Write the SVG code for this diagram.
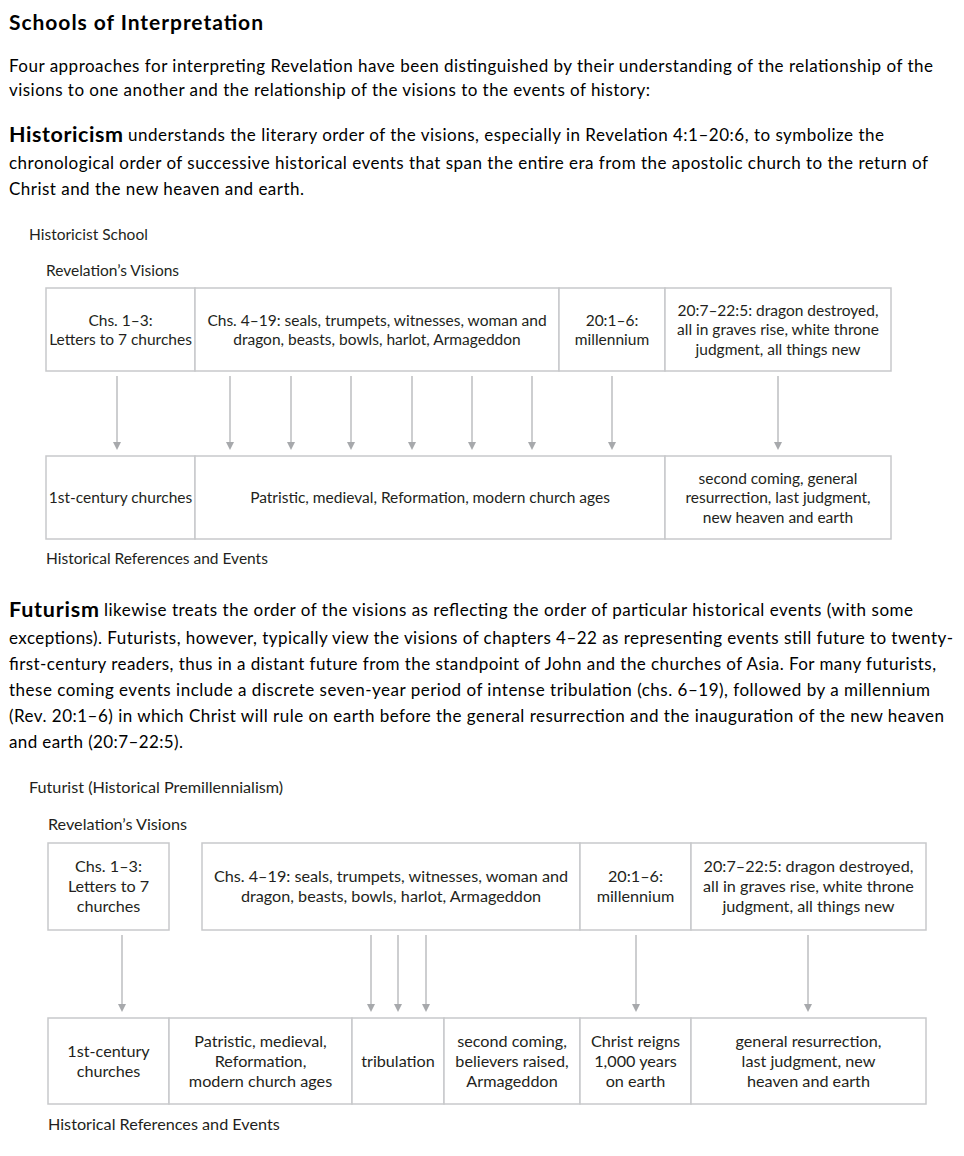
<svg xmlns="http://www.w3.org/2000/svg" width="964" height="1156" viewBox="0 0 964 1156">
<defs>
<style>
.h{font-family:Lato,"Liberation Sans",sans-serif;font-weight:bold;font-size:21px;fill:#000}
.p{font-family:Lato,"Liberation Sans",sans-serif;font-size:17px;fill:#000}
.pb{font-family:Lato,"Liberation Sans",sans-serif;font-weight:bold;font-size:21.5px;fill:#000}
.lab{font-family:Lato,"Liberation Sans",sans-serif;font-size:15.5px;fill:#231f20}
.t{font-family:Lato,"Liberation Sans",sans-serif;font-size:15.5px;fill:#231f20;text-anchor:middle}
.t2{font-family:Lato,"Liberation Sans",sans-serif;font-size:16.2px;fill:#231f20;text-anchor:middle}
.lab2{font-family:Lato,"Liberation Sans",sans-serif;font-size:16.2px;fill:#231f20}
.box{fill:#fff;stroke:#c8c9cb;stroke-width:1.5}
.arr{stroke:#bcbec0;stroke-width:1.5;fill:none;marker-end:url(#ah)}
</style>
<marker id="ah" viewBox="-1 -5 10 10" refX="0" refY="0" markerWidth="10" markerHeight="10" markerUnits="userSpaceOnUse" orient="auto">
<path d="M0,-4 L8,0 L0,4 z" fill="#a7a9ac"/>
</marker>
</defs>
<rect width="964" height="1156" fill="#fff"/>

<g id="intro">
<text class="h" x="9" y="30" textLength="254">Schools of Interpretation</text>
<text class="p" x="9" y="72" textLength="924">Four approaches for interpreting Revelation have been distinguished by their understanding of the relationship of the</text>
<text class="p" x="9" y="96" textLength="641">visions to one another and the relationship of the visions to the events of history:</text>
<text class="pb" x="9" y="142" textLength="114">Historicism</text>
<text class="p" x="128" y="141" textLength="756">understands the literary order of the visions, especially in Revelation 4:1–20:6, to symbolize the</text>
<text class="p" x="9" y="169" textLength="919">chronological order of successive historical events that span the entire era from the apostolic church to the return of</text>
<text class="p" x="9" y="195" textLength="295">Christ and the new heaven and earth.</text>
</g>

<g id="historicist-labels">
<text class="lab" x="29" y="240">Historicist School</text>
<text class="lab" x="46" y="276">Revelation’s Visions</text>
<text class="lab" x="46" y="564">Historical References and Events</text>
</g>

<g id="h-v1"><rect class="box" x="46" y="288" width="149" height="83"/>
<text class="t" x="120.5" y="326">Chs. 1–3:</text><text class="t" x="120.5" y="345">Letters to 7 churches</text></g>
<g id="h-v2"><rect class="box" x="195" y="288" width="364" height="83"/>
<text class="t" x="377" y="326">Chs. 4–19: seals, trumpets, witnesses, woman and</text><text class="t" x="377" y="345">dragon, beasts, bowls, harlot, Armageddon</text></g>
<g id="h-v3"><rect class="box" x="559" y="288" width="106" height="83"/>
<text class="t" x="612" y="326">20:1–6:</text><text class="t" x="612" y="345">millennium</text></g>
<g id="h-v4"><rect class="box" x="665" y="288" width="226" height="83"/>
<text class="t" x="778" y="316">20:7–22:5: dragon destroyed,</text><text class="t" x="778" y="335">all in graves rise, white throne</text><text class="t" x="778" y="355">judgment, all things new</text></g>

<g id="h-e1"><rect class="box" x="46" y="456" width="149" height="83"/>
<text class="t" x="120.5" y="503">1st-century churches</text></g>
<g id="h-e2"><rect class="box" x="195" y="456" width="470" height="83"/>
<text class="t" x="430" y="503">Patristic, medieval, Reformation, modern church ages</text></g>
<g id="h-e3"><rect class="box" x="665" y="456" width="226" height="83"/>
<text class="t" x="778" y="484">second coming, general</text><text class="t" x="778" y="503">resurrection, last judgment,</text><text class="t" x="778" y="523">new heaven and earth</text></g>

<g id="h-connectors">
<path class="arr" d="M117,376V442"/>
<path class="arr" d="M230,376V442"/>
<path class="arr" d="M291,376V442"/>
<path class="arr" d="M351,376V442"/>
<path class="arr" d="M412,376V442"/>
<path class="arr" d="M472,376V442"/>
<path class="arr" d="M532,376V442"/>
<path class="arr" d="M612,376V442"/>
<path class="arr" d="M778,376V442"/>
</g>

<g id="futurism-text">
<text class="pb" x="9" y="617" textLength="90">Futurism</text>
<text class="p" x="104" y="616" textLength="809">likewise treats the order of the visions as reflecting the order of particular historical events (with some</text>
<text class="p" x="9" y="644" textLength="944">exceptions). Futurists, however, typically view the visions of chapters 4–22 as representing events still future to twenty-</text>
<text class="p" x="9" y="670" textLength="927">first-century readers, thus in a distant future from the standpoint of John and the churches of Asia. For many futurists,</text>
<text class="p" x="9" y="696" textLength="921">these coming events include a discrete seven-year period of intense tribulation (chs. 6–19), followed by a millennium</text>
<text class="p" x="9" y="722" textLength="935">(Rev. 20:1–6) in which Christ will rule on earth before the general resurrection and the inauguration of the new heaven</text>
<text class="p" x="9" y="748" textLength="174">and earth (20:7–22:5).</text>
</g>

<g id="futurist-labels">
<text class="lab2" x="29" y="793">Futurist (Historical Premillennialism)</text>
<text class="lab2" x="48" y="830">Revelation’s Visions</text>
<text class="lab2" x="48" y="1130">Historical References and Events</text>
</g>

<g id="f-v1"><rect class="box" x="48" y="843" width="121" height="87"/>
<text class="t2" x="108.5" y="872">Chs. 1–3:</text><text class="t2" x="108.5" y="892">Letters to 7</text><text class="t2" x="108.5" y="912">churches</text></g>
<g id="f-v2"><rect class="box" x="202" y="843" width="378" height="87"/>
<text class="t2" x="391" y="882">Chs. 4–19: seals, trumpets, witnesses, woman and</text><text class="t2" x="391" y="902">dragon, beasts, bowls, harlot, Armageddon</text></g>
<g id="f-v3"><rect class="box" x="580" y="843" width="111" height="87"/>
<text class="t2" x="635.5" y="882">20:1–6:</text><text class="t2" x="635.5" y="902">millennium</text></g>
<g id="f-v4"><rect class="box" x="691" y="843" width="235" height="87"/>
<text class="t2" x="808.5" y="872">20:7–22:5: dragon destroyed,</text><text class="t2" x="808.5" y="892">all in graves rise, white throne</text><text class="t2" x="808.5" y="912">judgment, all things new</text></g>

<g id="f-e1"><rect class="box" x="48" y="1018" width="121" height="86"/>
<text class="t2" x="108.5" y="1057">1st-century</text><text class="t2" x="108.5" y="1077">churches</text></g>
<g id="f-e2"><rect class="box" x="169" y="1018" width="183" height="86"/>
<text class="t2" x="260.5" y="1047">Patristic, medieval,</text><text class="t2" x="260.5" y="1067">Reformation,</text><text class="t2" x="260.5" y="1087">modern church ages</text></g>
<g id="f-e3"><rect class="box" x="352" y="1018" width="92" height="86"/>
<text class="t2" x="398" y="1067">tribulation</text></g>
<g id="f-e4"><rect class="box" x="444" y="1018" width="136" height="86"/>
<text class="t2" x="512" y="1047">second coming,</text><text class="t2" x="512" y="1067">believers raised,</text><text class="t2" x="512" y="1087">Armageddon</text></g>
<g id="f-e5"><rect class="box" x="580" y="1018" width="111" height="86"/>
<text class="t2" x="635.5" y="1047">Christ reigns</text><text class="t2" x="635.5" y="1067">1,000 years</text><text class="t2" x="635.5" y="1087">on earth</text></g>
<g id="f-e6"><rect class="box" x="691" y="1018" width="235" height="86"/>
<text class="t2" x="808.5" y="1047">general resurrection,</text><text class="t2" x="808.5" y="1067">last judgment, new</text><text class="t2" x="808.5" y="1087">heaven and earth</text></g>

<g id="f-connectors">
<path class="arr" d="M122,935V1004"/>
<path class="arr" d="M371,935V1004"/>
<path class="arr" d="M398,935V1004"/>
<path class="arr" d="M426,935V1004"/>
<path class="arr" d="M636,935V1004"/>
<path class="arr" d="M808,935V1004"/>
</g>
</svg>
